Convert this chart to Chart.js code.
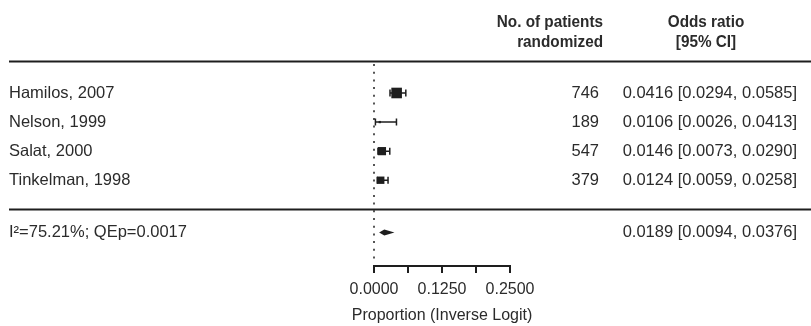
<!DOCTYPE html>
<html>
<head>
<meta charset="utf-8">
<script src="https://cdn.jsdelivr.net/npm/chart.js@4/dist/chart.umd.min.js"></script>
<style>
  html, body { margin: 0; padding: 0; background: #fff; }
  #wrap { width: 811px; height: 326px; }
</style>
</head>
<body>
<div id="wrap"><canvas id="forest" width="811" height="326"></canvas></div>
<script>
// Study-level data
const studies   = ['Hamilos, 2007', 'Nelson, 1999', 'Salat, 2000', 'Tinkelman, 1998'];
const patients  = [746, 189, 547, 379];
const estimates = [0.0416, 0.0106, 0.0146, 0.0124];
const lowerCI   = [0.0294, 0.0026, 0.0073, 0.0059];
const upperCI   = [0.0585, 0.0413, 0.0290, 0.0258];

// Pooled (random-effects) result
const summaryLabel    = 'I\u00B2=75.21%; QEp=0.0017';
const summaryEstimate = 0.0189;
const summaryLower    = 0.0094;
const summaryUpper    = 0.0376;

// Axis ticks
const xTickValues = [0, 0.0625, 0.125, 0.1875, 0.25];
const xTickLabels = ['0.0000', '', '0.1250', '', '0.2500'];

// Column headers and axis title
const headerPatients = ['No. of patients', 'randomized'];
const headerOdds     = ['Odds ratio', '[95% CI]'];
const axisTitle      = 'Proportion (Inverse Logit)';

// Row positions on the y scale (studies top to bottom, then the pooled row)
const studyRows  = [4, 3, 2, 1];
const summaryRow = -0.8;
const topRuleRow = 5.1;
const midRuleRow = 0;

const INK = '#1e1e1e';
const TEXT = '#2b2b2b';
const FAMILY = '"Liberation Sans", Arial, sans-serif';
const BODY_FONT = '16.5px ' + FAMILY;
const HEAD_FONT = 'bold 17px ' + FAMILY;

const fmt = v => v.toFixed(4);

// header text is set in a condensed bold face
function condensedText(ctx, text, x, y, align) {
  const squeeze = 0.9;
  ctx.save();
  ctx.translate(x, y);
  ctx.scale(squeeze, 1);
  ctx.textAlign = align;
  ctx.fillText(text, 0, 0);
  ctx.restore();
}

const forestPlugin = {
  id: 'forestPlot',
  beforeDatasetsDraw(chart) {
    const { ctx, chartArea, scales: { x, y } } = chart;
    ctx.save();

    // dotted reference line at 0
    ctx.strokeStyle = '#555';
    ctx.lineWidth = 2;
    ctx.setLineDash([2, 5.7]);
    const x0 = Math.round(x.getPixelForValue(0));
    ctx.beginPath();
    ctx.moveTo(x0, chartArea.top + 3);
    ctx.lineTo(x0, chartArea.bottom - 3);
    ctx.stroke();
    ctx.setLineDash([]);

    // confidence interval whiskers
    ctx.strokeStyle = INK;
    ctx.lineWidth = 1.5;
    studyRows.forEach((r, i) => {
      const py = y.getPixelForValue(r);
      const xl = x.getPixelForValue(lowerCI[i]);
      const xh = x.getPixelForValue(upperCI[i]);
      ctx.beginPath();
      ctx.moveTo(xl, py); ctx.lineTo(xh, py);
      ctx.moveTo(xl, py - 3.5); ctx.lineTo(xl, py + 3.5);
      ctx.moveTo(xh, py - 3.5); ctx.lineTo(xh, py + 3.5);
      ctx.stroke();
    });

    // pooled estimate diamond
    const sy = y.getPixelForValue(summaryRow);
    ctx.fillStyle = INK;
    ctx.beginPath();
    ctx.moveTo(x.getPixelForValue(summaryLower), sy);
    ctx.lineTo(x.getPixelForValue(summaryEstimate), sy - 3);
    ctx.lineTo(x.getPixelForValue(summaryUpper), sy);
    ctx.lineTo(x.getPixelForValue(summaryEstimate), sy + 3);
    ctx.closePath();
    ctx.fill();
    ctx.restore();
  },
  afterDraw(chart) {
    const { ctx, width, scales: { x, y } } = chart;
    ctx.save();

    // horizontal rules
    ctx.strokeStyle = INK;
    ctx.lineWidth = 2;
    [topRuleRow, midRuleRow].forEach(r => {
      const py = Math.round(y.getPixelForValue(r)) + 0.5;
      ctx.beginPath();
      ctx.moveTo(9, py); ctx.lineTo(width, py);
      ctx.stroke();
    });

    // column headers
    ctx.fillStyle = TEXT;
    ctx.font = HEAD_FONT;
    ctx.textBaseline = 'middle';
    condensedText(ctx, headerPatients[0], 603, 22, 'right');
    condensedText(ctx, headerPatients[1], 603, 42, 'right');
    condensedText(ctx, headerOdds[0], 706, 22, 'center');
    condensedText(ctx, headerOdds[1], 706, 42, 'center');

    // study rows
    ctx.font = BODY_FONT;
    studyRows.forEach((r, i) => {
      const py = y.getPixelForValue(r);
      ctx.textAlign = 'left';
      ctx.fillText(studies[i], 9, py);
      ctx.textAlign = 'right';
      ctx.fillText(String(patients[i]), 599, py);
      ctx.fillText(`${fmt(estimates[i])} [${fmt(lowerCI[i])}, ${fmt(upperCI[i])}]`, 797, py);
    });

    // pooled row
    const sy = y.getPixelForValue(summaryRow);
    ctx.textAlign = 'left';
    ctx.fillText(summaryLabel, 9, sy);
    ctx.textAlign = 'right';
    ctx.fillText(`${fmt(summaryEstimate)} [${fmt(summaryLower)}, ${fmt(summaryUpper)}]`, 797, sy);

    // axis title, centred under the x axis
    ctx.font = '16px ' + FAMILY;
    ctx.textAlign = 'center';
    ctx.fillText(axisTitle, (x.left + x.right) / 2, 316);
    ctx.restore();
  }
};

new Chart(document.getElementById('forest'), {
  type: 'scatter',
  data: {
    datasets: [{
      data: estimates.map((v, i) => ({ x: v, y: studyRows[i] })),
      pointStyle: 'rect',
      pointRadius: [7.5, 1.6, 5.8, 5.2],
      backgroundColor: INK,
      borderWidth: 0
    }]
  },
  options: {
    responsive: false,
    devicePixelRatio: 1,
    animation: false,
    events: [],
    layout: { padding: { left: 374, right: 301, top: 61, bottom: 0 } },
    plugins: { legend: { display: false }, tooltip: { enabled: false } },
    scales: {
      x: {
        type: 'linear',
        min: 0,
        max: 0.25,
        afterBuildTicks(scale) { scale.ticks = xTickValues.map(v => ({ value: v })); },
        afterFit(scale) { scale.height = 60; },
        ticks: {
          autoSkip: false,
          maxRotation: 0,
          padding: 7,
          color: TEXT,
          font: { family: FAMILY, size: 16 },
          callback: (v, i) => xTickLabels[i]
        },
        grid: { drawOnChartArea: false, drawTicks: true, tickLength: 7, color: INK, lineWidth: 2 },
        border: { display: true, color: INK, width: 2 },
        title: { display: false }
      },
      y: {
        type: 'linear',
        display: false,
        min: -1.95,
        max: topRuleRow
      }
    }
  },
  plugins: [forestPlugin]
});
</script>
</body>
</html>
